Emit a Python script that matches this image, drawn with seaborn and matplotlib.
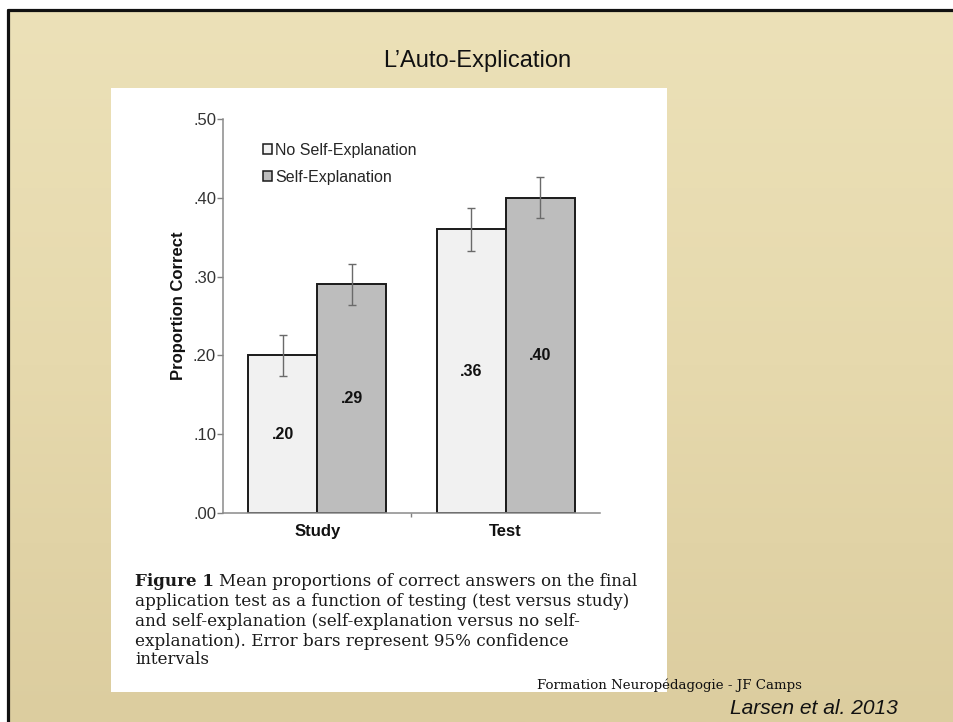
import matplotlib
matplotlib.use("Agg")
import matplotlib.pyplot as plt
from matplotlib.patches import Rectangle
from matplotlib.lines import Line2D
from matplotlib.colors import LinearSegmentedColormap
import seaborn as sns
import pandas as pd
import numpy as np

# ---------------- data ----------------
phases = ["Study", "Test"]
conditions = ["No Self-Explanation", "Self-Explanation"]
no_se_means = [0.20, 0.36]
se_means = [0.29, 0.40]
no_se_ci = [0.026, 0.027]
se_ci = [0.026, 0.026]
no_se_labels = [".20", ".36"]
se_labels = [".29", ".40"]
yticks = [0.0, 0.1, 0.2, 0.3, 0.4, 0.5]
ytick_labels = [".00", ".10", ".20", ".30", ".40", ".50"]

slide_title = "L\u2019Auto-Explication"
caption_bold = "Figure 1"
caption_lines = [
    "Mean proportions of correct answers on the final",
    "application test as a function of testing (test versus study)",
    "and self-explanation (self-explanation versus no self-",
    "explanation). Error bars represent 95% confidence",
    "intervals",
]
footer_text = "Formation Neurop\u00e9dagogie - JF Camps"
source_text = "Larsen et al. 2013"

# ---------------- figure ----------------
W, H = 954, 722
sns.set_theme(style="white")
plt.rcParams["font.family"] = ["Liberation Sans", "DejaVu Sans"]

fig = plt.figure(figsize=(W / 100, H / 100), dpi=100)
fig.patch.set_facecolor("white")


def fx(px):
    return px / W


def fy(py):
    return 1 - py / H


# parchment slide background (subtle vertical gradient)
bg = fig.add_axes([fx(8), 0, 1 - fx(8), fy(9)], zorder=0)
grad = np.linspace(0, 1, 256).reshape(-1, 1)
parch = LinearSegmentedColormap.from_list("parch", ["#ece1b8", "#e6d9ad", "#dccd9f"])
bg.imshow(grad, aspect="auto", cmap=parch, extent=[0, 1, 0, 1], origin="upper")
bg.set_axis_off()

# slide border (top & left)
fig.add_artist(Line2D([fx(8), 1], [fy(9.5), fy(9.5)], color="#111111", lw=2.3,
                      transform=fig.transFigure, zorder=2))
fig.add_artist(Line2D([fx(8), fx(8)], [0, fy(9.5)], color="#111111", lw=2.3,
                      transform=fig.transFigure, zorder=2))

# white figure panel
fig.add_artist(Rectangle((fx(111), fy(692)), fx(667) - fx(111), fy(88) - fy(692),
                         facecolor="white", edgecolor="none",
                         transform=fig.transFigure, zorder=1))

# ---------------- chart ----------------
ax = fig.add_axes([fx(223), fy(513), fx(600) - fx(223), fy(119) - fy(513)], zorder=3)
ax.set_facecolor("none")

df = pd.DataFrame({
    "Phase": phases * 2,
    "Condition": [conditions[0]] * len(phases) + [conditions[1]] * len(phases),
    "Proportion": no_se_means + se_means,
})

sns.barplot(data=df, x="Phase", y="Proportion", hue="Condition",
            order=phases, hue_order=conditions,
            palette=["#f1f1f1", "#bdbdbd"], saturation=1,
            edgecolor="#1a1a1a", linewidth=1.4, width=0.73,
            errorbar=None, ax=ax)

for cont, ci, labs in zip(ax.containers, [no_se_ci, se_ci], [no_se_labels, se_labels]):
    xs = [p.get_x() + p.get_width() / 2 for p in cont]
    hs = [p.get_height() for p in cont]
    ax.errorbar(xs, hs, yerr=ci, fmt="none", ecolor="#6a6a6a", elinewidth=1.0,
                capsize=3, capthick=1.0, zorder=5)
    ax.bar_label(cont, labels=labs, label_type="center", fontweight="bold",
                 fontsize=11.5, color="#111111")

handles, labels = ax.get_legend_handles_labels()
leg = ax.legend(handles, labels, loc="upper left", bbox_to_anchor=(0.107, 0.94),
                frameon=False, handlelength=0.55, handleheight=0.55,
                handletextpad=0.2, labelspacing=0.75, fontsize=11.5,
                borderaxespad=0, borderpad=0)
for h in leg.legend_handles:
    h.set_linewidth(1.1)

ax.set_ylim(0, 0.5)
ax.set_xlim(-0.5, 1.5)
ax.set_yticks(yticks, labels=ytick_labels)
ax.tick_params(axis="y", left=True, length=4, width=1, color="#808080",
               labelsize=12, labelcolor="#333333", pad=1)
ax.tick_params(axis="x", which="major", bottom=False, length=0, labelsize=12, pad=8)
for t in ax.get_xticklabels():
    t.set_fontweight("bold")
    t.set_color("#111111")
ax.set_xticks([0.5], minor=True)
ax.tick_params(axis="x", which="minor", bottom=True, length=3, width=1, color="#808080")

ax.set_xlabel("")
ax.set_ylabel("Proportion Correct", fontweight="bold", fontsize=12, color="#111111")
ax.yaxis.set_label_coords(-0.097, 0.525)

sns.despine(ax=ax)
for side in ["left", "bottom"]:
    ax.spines[side].set_color("#8a8a8a")
    ax.spines[side].set_linewidth(1.1)

# ---------------- texts ----------------
renderer = fig.canvas.get_renderer()


def fit_width(t, target):
    w = t.get_window_extent(renderer).width
    t.set_fontsize(t.get_fontsize() * target / w)


title = fig.text(fx(477), fy(61), slide_title, ha="center", va="center",
                 family=["Liberation Sans", "DejaVu Sans"],
                 fontsize=16, color="#111111", zorder=4)
fit_width(title, 188)

# caption
cap_font = ["DejaVu Serif"]
cap_x0 = 135
cap_y = [581, 601, 621, 641, 660]
tb = fig.text(fx(cap_x0), fy(cap_y[0]), caption_bold, ha="left", va="center",
              family=cap_font, fontweight="bold", fontsize=11, color="#1a1a1a", zorder=4)
t1 = fig.text(0, fy(cap_y[0]), caption_lines[0], ha="left", va="center",
              family=cap_font, fontsize=11, color="#1a1a1a", zorder=4)
wb = tb.get_window_extent(renderer).width
w1 = t1.get_window_extent(renderer).width
space = 0.3 * 11 * 100 / 72
scale = 503 / (wb + space + w1)
cap_size = 11 * scale
tb.set_fontsize(cap_size)
t1.set_fontsize(cap_size)
wb = tb.get_window_extent(renderer).width
t1.set_x(fx(cap_x0 + wb + 0.3 * cap_size * 100 / 72))
for line, yy in zip(caption_lines[1:], cap_y[1:]):
    fig.text(fx(cap_x0), fy(yy), line, ha="left", va="center",
             family=cap_font, fontsize=cap_size, color="#1a1a1a", zorder=4)

foot = fig.text(fx(537), fy(685), footer_text, ha="left", va="center",
                family=["DejaVu Serif"], fontsize=8, color="#111111", zorder=4)
fit_width(foot, 265)

src = fig.text(fx(730), fy(708), source_text, ha="left", va="center",
               family=["Liberation Sans", "DejaVu Sans"], style="italic",
               fontsize=13, color="#111111", zorder=4)
fit_width(src, 168)

fig.savefig("out.png", dpi=100)
